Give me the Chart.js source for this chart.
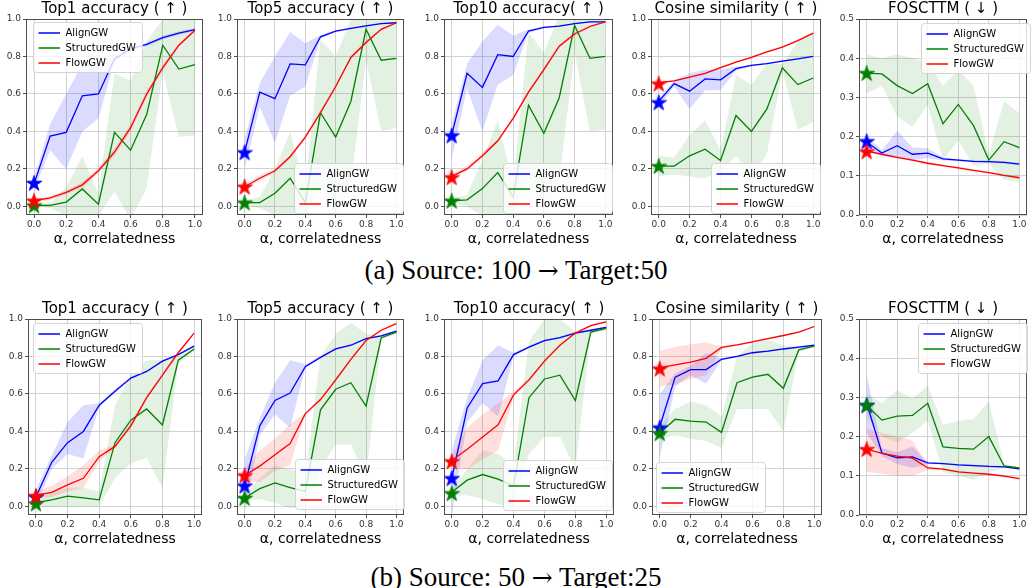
<!DOCTYPE html>
<html>
<head>
<meta charset="utf-8">
<script src="https://cdn.jsdelivr.net/npm/chart.js@4.4.1/dist/chart.umd.min.js"></script>
<style>
  body { margin: 0; background: #fff; width: 1032px; height: 588px; position: relative; overflow: hidden; }
  canvas { position: absolute; }
  .cap { position: absolute; left: 0; width: 1032px; text-align: center; font-family: "Liberation Serif", "DejaVu Serif", serif; font-size: 27px; line-height: 26px; color: #000; }
  .cap .arr { font-family: "DejaVu Serif", serif; font-size: 25px; }
</style>
</head>
<body>
<div class="cap" style="top:257px">(a) Source: 100 <span class="arr">→</span> Target:50</div>
<div class="cap" style="top:564px">(b) Source: 50 <span class="arr">→</span> Target:25</div>
<script>
// x values (alpha, correlatedness)
const alpha = [0, 0.1, 0.2, 0.3, 0.4, 0.5, 0.6, 0.7, 0.8, 0.9, 1.0];
const methods = ['AlignGW', 'StructuredGW', 'FlowGW'];
const titles = ['Top1 accuracy ( ↑ )', 'Top5 accuracy ( ↑ )', 'Top10 accuracy( ↑ )', 'Cosine similarity ( ↑ )', 'FOSCTTM ( ↓ )'];
const xLabel = 'α, correlatedness';
const xTicks = [0, 0.2, 0.4, 0.6, 0.8, 1.0];
const accTicks = [0, 0.2, 0.4, 0.6, 0.8, 1.0];
const fosTicks = [0, 0.1, 0.2, 0.3, 0.4, 0.5];

// ---- (a) Source 100 -> Target 50 ----
const aTop1Align    = [0.12, 0.375, 0.395, 0.59, 0.60, 0.787, 0.84, 0.865, 0.90, 0.925, 0.943];
const aTop1AlignUp  = [0.15, 0.44, 0.60, 0.76, 0.76, 0.80, 0.85, 0.875, 0.91, 0.935, 0.95];
const aTop1AlignLo  = [0.09, 0.30, 0.20, 0.40, 0.47, 0.77, 0.83, 0.855, 0.89, 0.915, 0.935];
const aTop1Struct   = [0.005, 0.005, 0.023, 0.093, 0.012, 0.395, 0.30, 0.49, 0.86, 0.733, 0.757];
const aTop1StructUp = [0.012, 0.02, 0.10, 0.267, 0.07, 0.71, 0.67, 0.88, 1.0, 1.1, 1.12];
const aTop1StructLo = [0.0, -0.01, -0.05, -0.08, -0.05, 0.08, -0.07, 0.10, 0.72, 0.37, 0.38];
const aTop1Flow     = [0.03, 0.045, 0.075, 0.115, 0.19, 0.29, 0.42, 0.60, 0.74, 0.86, 0.94];
const aTop1FlowUp   = [0.04, 0.055, 0.085, 0.13, 0.205, 0.31, 0.44, 0.62, 0.755, 0.87, 0.945];
const aTop1FlowLo   = [0.02, 0.035, 0.065, 0.10, 0.175, 0.27, 0.40, 0.58, 0.725, 0.85, 0.935];
const aTop1Stars    = [0.125, 0.005, 0.03];

const aTop5Align    = [0.29, 0.61, 0.575, 0.76, 0.755, 0.905, 0.935, 0.95, 0.963, 0.975, 0.98];
const aTop5AlignUp  = [0.36, 0.66, 0.80, 0.93, 0.87, 0.915, 0.94, 0.955, 0.968, 0.978, 0.983];
const aTop5AlignLo  = [0.20, 0.53, 0.34, 0.59, 0.64, 0.895, 0.93, 0.945, 0.958, 0.972, 0.977];
const aTop5Struct   = [0.02, 0.02, 0.07, 0.15, 0.02, 0.50, 0.37, 0.56, 0.945, 0.78, 0.79];
const aTop5StructUp = [0.03, 0.05, 0.20, 0.40, 0.10, 0.89, 0.80, 1.0, 1.1, 1.15, 1.15];
const aTop5StructLo = [0.01, -0.01, -0.05, -0.07, -0.06, 0.12, -0.06, 0.12, 0.78, 0.40, 0.42];
const aTop5Flow     = [0.105, 0.15, 0.19, 0.265, 0.37, 0.50, 0.64, 0.795, 0.875, 0.945, 0.98];
const aTop5FlowUp   = [0.115, 0.165, 0.20, 0.275, 0.38, 0.51, 0.65, 0.805, 0.885, 0.95, 0.985];
const aTop5FlowLo   = [0.095, 0.135, 0.18, 0.255, 0.36, 0.49, 0.63, 0.785, 0.865, 0.94, 0.975];
const aTop5Stars    = [0.288, 0.02, 0.105];

const aTop10Align    = [0.38, 0.71, 0.635, 0.81, 0.80, 0.935, 0.955, 0.962, 0.975, 0.985, 0.985];
const aTop10AlignUp  = [0.44, 0.76, 0.88, 0.97, 0.91, 0.945, 0.96, 0.966, 0.978, 0.988, 0.988];
const aTop10AlignLo  = [0.25, 0.63, 0.40, 0.65, 0.70, 0.925, 0.95, 0.958, 0.972, 0.982, 0.982];
const aTop10Struct   = [0.03, 0.035, 0.095, 0.18, 0.05, 0.54, 0.39, 0.58, 0.965, 0.79, 0.80];
const aTop10StructUp = [0.04, 0.06, 0.25, 0.46, 0.12, 0.93, 0.82, 1.02, 1.1, 1.15, 1.15];
const aTop10StructLo = [0.02, 0.0, -0.05, -0.06, -0.03, 0.15, -0.05, 0.14, 0.82, 0.40, 0.41];
const aTop10Flow     = [0.16, 0.20, 0.27, 0.35, 0.47, 0.61, 0.73, 0.855, 0.92, 0.96, 0.985];
const aTop10FlowUp   = [0.17, 0.215, 0.285, 0.36, 0.48, 0.62, 0.74, 0.865, 0.93, 0.965, 0.99];
const aTop10FlowLo   = [0.15, 0.19, 0.26, 0.34, 0.46, 0.60, 0.72, 0.845, 0.91, 0.955, 0.98];
const aTop10Stars    = [0.378, 0.03, 0.155];

const aCosAlign    = [0.56, 0.655, 0.615, 0.68, 0.675, 0.735, 0.752, 0.762, 0.775, 0.787, 0.80];
const aCosAlignUp  = [0.58, 0.67, 0.71, 0.73, 0.73, 0.745, 0.757, 0.766, 0.779, 0.79, 0.803];
const aCosAlignLo  = [0.53, 0.64, 0.52, 0.62, 0.62, 0.725, 0.747, 0.758, 0.771, 0.784, 0.797];
const aCosStruct   = [0.215, 0.215, 0.27, 0.305, 0.245, 0.485, 0.40, 0.52, 0.74, 0.65, 0.685];
const aCosStructUp = [0.27, 0.26, 0.38, 0.46, 0.30, 0.70, 0.65, 0.76, 0.76, 0.88, 0.93];
const aCosStructLo = [0.16, 0.17, 0.16, 0.15, 0.19, 0.27, 0.16, 0.28, 0.72, 0.41, 0.45];
const aCosFlow     = [0.66, 0.67, 0.69, 0.71, 0.74, 0.77, 0.795, 0.825, 0.85, 0.885, 0.925];
const aCosFlowUp   = [0.665, 0.675, 0.695, 0.715, 0.745, 0.775, 0.80, 0.83, 0.855, 0.89, 0.93];
const aCosFlowLo   = [0.655, 0.665, 0.685, 0.705, 0.735, 0.765, 0.79, 0.82, 0.845, 0.88, 0.92];
const aCosStars    = [0.555, 0.215, 0.655];

const aFosAlign    = [0.186, 0.158, 0.177, 0.155, 0.158, 0.143, 0.14, 0.137, 0.136, 0.134, 0.13];
const aFosAlignUp  = [0.20, 0.165, 0.215, 0.172, 0.17, 0.147, 0.143, 0.14, 0.139, 0.137, 0.133];
const aFosAlignLo  = [0.172, 0.15, 0.145, 0.14, 0.145, 0.139, 0.137, 0.134, 0.133, 0.131, 0.127];
const aFosStruct   = [0.362, 0.36, 0.33, 0.31, 0.335, 0.233, 0.282, 0.228, 0.14, 0.187, 0.172];
const aFosStructUp = [0.41, 0.40, 0.41, 0.40, 0.39, 0.33, 0.37, 0.33, 0.155, 0.29, 0.26];
const aFosStructLo = [0.31, 0.33, 0.25, 0.225, 0.28, 0.14, 0.19, 0.125, 0.13, 0.09, 0.085];
const aFosFlow     = [0.163, 0.155, 0.147, 0.14, 0.132, 0.126, 0.12, 0.114, 0.108, 0.101, 0.095];
const aFosFlowUp   = [0.166, 0.158, 0.15, 0.143, 0.135, 0.129, 0.123, 0.117, 0.111, 0.104, 0.098];
const aFosFlowLo   = [0.16, 0.152, 0.144, 0.137, 0.129, 0.123, 0.117, 0.111, 0.105, 0.098, 0.092];
const aFosStars    = [0.188, 0.362, 0.162];

// ---- (b) Source 50 -> Target 25 ----
const bTop1Align    = [0.05, 0.235, 0.34, 0.40, 0.54, 0.615, 0.685, 0.72, 0.775, 0.81, 0.855];
const bTop1AlignUp  = [0.09, 0.27, 0.45, 0.54, 0.55, 0.625, 0.69, 0.725, 0.78, 0.815, 0.86];
const bTop1AlignLo  = [0.01, 0.20, 0.28, 0.255, 0.53, 0.605, 0.68, 0.715, 0.77, 0.805, 0.85];
const bTop1Struct   = [0.02, 0.035, 0.055, 0.045, 0.035, 0.34, 0.46, 0.52, 0.435, 0.78, 0.84];
const bTop1StructUp = [0.03, 0.08, 0.10, 0.10, 0.08, 0.54, 0.70, 0.78, 0.78, 0.80, 0.85];
const bTop1StructLo = [0.0, -0.005, 0.0, 0.0, 0.0, 0.15, 0.23, 0.26, 0.10, 0.76, 0.83];
const bTop1Flow     = [0.06, 0.075, 0.115, 0.15, 0.265, 0.32, 0.43, 0.58, 0.70, 0.82, 0.925];
const bTop1FlowUp   = [0.08, 0.11, 0.16, 0.22, 0.30, 0.33, 0.45, 0.59, 0.71, 0.83, 0.93];
const bTop1FlowLo   = [0.04, 0.05, 0.08, 0.10, 0.24, 0.31, 0.42, 0.57, 0.69, 0.81, 0.92];
const bTop1Stars    = [0.05, 0.015, 0.055];

const bTop5Align    = [0.11, 0.43, 0.565, 0.605, 0.745, 0.795, 0.84, 0.86, 0.895, 0.91, 0.935];
const bTop5AlignUp  = [0.25, 0.47, 0.66, 0.78, 0.76, 0.80, 0.845, 0.865, 0.90, 0.915, 0.94];
const bTop5AlignLo  = [-0.04, 0.38, 0.49, 0.42, 0.74, 0.79, 0.835, 0.855, 0.89, 0.905, 0.93];
const bTop5Struct   = [0.045, 0.095, 0.125, 0.10, 0.08, 0.515, 0.625, 0.66, 0.535, 0.90, 0.93];
const bTop5StructUp = [0.06, 0.15, 0.22, 0.20, 0.17, 0.80, 0.92, 0.98, 0.92, 0.91, 0.94];
const bTop5StructLo = [0.03, 0.04, 0.02, -0.01, 0.0, 0.20, 0.33, 0.33, 0.15, 0.89, 0.92];
const bTop5Flow     = [0.165, 0.215, 0.275, 0.335, 0.495, 0.57, 0.675, 0.785, 0.885, 0.94, 0.975];
const bTop5FlowUp   = [0.20, 0.30, 0.36, 0.44, 0.50, 0.58, 0.685, 0.79, 0.89, 0.945, 0.98];
const bTop5FlowLo   = [0.13, 0.13, 0.19, 0.22, 0.49, 0.56, 0.665, 0.78, 0.88, 0.935, 0.97];
const bTop5Stars    = [0.11, 0.045, 0.165];

const bTop10Align    = [0.15, 0.525, 0.655, 0.67, 0.81, 0.85, 0.885, 0.90, 0.925, 0.94, 0.955];
const bTop10AlignUp  = [0.30, 0.58, 0.78, 0.86, 0.82, 0.855, 0.89, 0.905, 0.93, 0.945, 0.96];
const bTop10AlignLo  = [-0.05, 0.45, 0.55, 0.48, 0.80, 0.845, 0.88, 0.895, 0.92, 0.935, 0.95];
const bTop10Struct   = [0.075, 0.14, 0.17, 0.145, 0.11, 0.58, 0.68, 0.70, 0.565, 0.93, 0.95];
const bTop10StructUp = [0.09, 0.20, 0.30, 0.28, 0.22, 0.88, 1.0, 1.0, 0.93, 0.94, 0.96];
const bTop10StructLo = [0.06, 0.06, 0.04, 0.01, 0.0, 0.28, 0.37, 0.37, 0.20, 0.92, 0.94];
const bTop10Flow     = [0.245, 0.305, 0.37, 0.435, 0.595, 0.675, 0.775, 0.86, 0.925, 0.965, 0.985];
const bTop10FlowUp   = [0.27, 0.42, 0.49, 0.55, 0.61, 0.685, 0.785, 0.865, 0.93, 0.97, 0.99];
const bTop10FlowLo   = [0.21, 0.20, 0.25, 0.30, 0.58, 0.665, 0.765, 0.855, 0.92, 0.96, 0.98];
const bTop10Stars    = [0.15, 0.07, 0.24];

const bCosAlign    = [0.425, 0.69, 0.73, 0.73, 0.785, 0.80, 0.82, 0.828, 0.84, 0.85, 0.86];
const bCosAlignUp  = [0.60, 0.71, 0.75, 0.82, 0.79, 0.805, 0.824, 0.832, 0.844, 0.854, 0.864];
const bCosAlignLo  = [0.26, 0.64, 0.70, 0.655, 0.78, 0.795, 0.816, 0.824, 0.836, 0.846, 0.856];
const bCosStruct   = [0.39, 0.465, 0.455, 0.45, 0.395, 0.66, 0.69, 0.705, 0.63, 0.835, 0.855];
const bCosStructUp = [0.43, 0.52, 0.56, 0.54, 0.48, 0.80, 0.87, 0.89, 0.86, 0.845, 0.86];
const bCosStructLo = [0.36, 0.38, 0.36, 0.35, 0.31, 0.52, 0.52, 0.52, 0.40, 0.825, 0.85];
const bCosFlow     = [0.74, 0.755, 0.77, 0.79, 0.848, 0.862, 0.878, 0.895, 0.912, 0.93, 0.96];
const bCosFlowUp   = [0.83, 0.85, 0.865, 0.875, 0.855, 0.867, 0.882, 0.899, 0.916, 0.934, 0.964];
const bCosFlowLo   = [0.64, 0.65, 0.68, 0.70, 0.84, 0.857, 0.874, 0.891, 0.908, 0.926, 0.956];
const bCosStars    = [0.42, 0.39, 0.735];

const bFosAlign    = [0.285, 0.158, 0.146, 0.148, 0.133, 0.131, 0.128, 0.126, 0.124, 0.123, 0.118];
const bFosAlignUp  = [0.36, 0.17, 0.16, 0.175, 0.136, 0.133, 0.13, 0.128, 0.126, 0.125, 0.12];
const bFosAlignLo  = [0.21, 0.15, 0.13, 0.12, 0.13, 0.129, 0.126, 0.124, 0.122, 0.121, 0.116];
const bFosStruct   = [0.28, 0.242, 0.252, 0.254, 0.285, 0.174, 0.17, 0.168, 0.20, 0.125, 0.12];
const bFosStructUp = [0.31, 0.285, 0.318, 0.297, 0.33, 0.23, 0.24, 0.245, 0.29, 0.13, 0.122];
const bFosStructLo = [0.25, 0.20, 0.185, 0.21, 0.24, 0.11, 0.10, 0.09, 0.11, 0.12, 0.117];
const bFosFlow     = [0.168, 0.157, 0.15, 0.145, 0.12, 0.117, 0.11, 0.107, 0.104, 0.099, 0.093];
const bFosFlowUp   = [0.22, 0.21, 0.20, 0.19, 0.125, 0.12, 0.113, 0.11, 0.107, 0.102, 0.096];
const bFosFlowLo   = [0.11, 0.105, 0.10, 0.10, 0.115, 0.114, 0.107, 0.104, 0.101, 0.096, 0.09];
const bFosStars    = [0.28, 0.28, 0.168];

// ---- styling / layout ----
const lineColors = ['#0000ff', '#008000', '#ff0000'];
const bandColors = ['rgba(0,0,255,0.14)', 'rgba(0,128,0,0.11)', 'rgba(255,0,0,0.13)'];
// canvas is symmetric around the plot (empty right axis) so the title centres over the axes
const TH = 19, XH = 33, YW = 34, PH = 196;
const rowTop = { a: 19, b: 319 };
const colX = {
  a: [[26, 203], [237, 404], [444, 613], [651, 821], [859, 1027]],
  b: [[28, 202], [237, 404], [444, 614], [652, 822], [859, 1027]]
};

const panels = [
  { row: 'a', col: 0, s: [[aTop1Align, aTop1AlignUp, aTop1AlignLo], [aTop1Struct, aTop1StructUp, aTop1StructLo], [aTop1Flow, aTop1FlowUp, aTop1FlowLo]], stars: aTop1Stars, fos: false, leg: 'upper left', dx: 7, dy: 3 },
  { row: 'a', col: 1, s: [[aTop5Align, aTop5AlignUp, aTop5AlignLo], [aTop5Struct, aTop5StructUp, aTop5StructLo], [aTop5Flow, aTop5FlowUp, aTop5FlowLo]], stars: aTop5Stars, fos: false, leg: 'lower right', dx: 1, dy: 2 },
  { row: 'a', col: 2, s: [[aTop10Align, aTop10AlignUp, aTop10AlignLo], [aTop10Struct, aTop10StructUp, aTop10StructLo], [aTop10Flow, aTop10FlowUp, aTop10FlowLo]], stars: aTop10Stars, fos: false, leg: 'lower right', dx: 1, dy: 2 },
  { row: 'a', col: 3, s: [[aCosAlign, aCosAlignUp, aCosAlignLo], [aCosStruct, aCosStructUp, aCosStructLo], [aCosFlow, aCosFlowUp, aCosFlowLo]], stars: aCosStars, fos: false, leg: 'lower right', dx: 1, dy: 2 },
  { row: 'a', col: 4, s: [[aFosAlign, aFosAlignUp, aFosAlignLo], [aFosStruct, aFosStructUp, aFosStructLo], [aFosFlow, aFosFlowUp, aFosFlowLo]], stars: aFosStars, fos: true, leg: 'upper right', dx: -3, dy: 4 },
  { row: 'b', col: 0, s: [[bTop1Align, bTop1AlignUp, bTop1AlignLo], [bTop1Struct, bTop1StructUp, bTop1StructLo], [bTop1Flow, bTop1FlowUp, bTop1FlowLo]], stars: bTop1Stars, fos: false, leg: 'upper left', dx: 5, dy: 4 },
  { row: 'b', col: 1, s: [[bTop5Align, bTop5AlignUp, bTop5AlignLo], [bTop5Struct, bTop5StructUp, bTop5StructLo], [bTop5Flow, bTop5FlowUp, bTop5FlowLo]], stars: bTop5Stars, fos: false, leg: 'lower right', dx: 0, dy: 6 },
  { row: 'b', col: 2, s: [[bTop10Align, bTop10AlignUp, bTop10AlignLo], [bTop10Struct, bTop10StructUp, bTop10StructLo], [bTop10Flow, bTop10FlowUp, bTop10FlowLo]], stars: bTop10Stars, fos: false, leg: 'lower right', dx: 2, dy: 5 },
  { row: 'b', col: 3, s: [[bCosAlign, bCosAlignUp, bCosAlignLo], [bCosStruct, bCosStructUp, bCosStructLo], [bCosFlow, bCosFlowUp, bCosFlowLo]], stars: bCosStars, fos: false, leg: 'lower left', dx: 4, dy: 3 },
  { row: 'b', col: 4, s: [[bFosAlign, bFosAlignUp, bFosAlignLo], [bFosStruct, bFosStructUp, bFosStructLo], [bFosFlow, bFosFlowUp, bFosFlowLo]], stars: bFosStars, fos: true, leg: 'upper right', dx: 0, dy: 4 }
];

// filled 5-point star like matplotlib's '*' marker
function starImage(color) {
  const c = document.createElement('canvas');
  c.width = 20; c.height = 20;
  const g = c.getContext('2d');
  const R = 8.3, r = R * 0.382, cx = 10, cy = 10.7;
  g.beginPath();
  for (let i = 0; i < 10; i++) {
    const rad = i % 2 === 0 ? R : r;
    const ang = -Math.PI / 2 + i * Math.PI / 5;
    const px = cx + rad * Math.cos(ang), py = cy + rad * Math.sin(ang);
    if (i === 0) g.moveTo(px, py); else g.lineTo(px, py);
  }
  g.closePath();
  g.fillStyle = color; g.fill();
  g.strokeStyle = color; g.lineWidth = 0.8; g.stroke();
  return c;
}
const stars = lineColors.map(starImage);

// axes frame + matplotlib-like legend box
const frameLegend = {
  id: 'frameLegend',
  afterDatasetsDraw(chart, args, o) {
    const ctx = chart.ctx, a = chart.chartArea;
    ctx.save();
    ctx.strokeStyle = '#4d4d4d'; ctx.lineWidth = 1;
    ctx.strokeRect(Math.round(a.left) + 0.5, Math.round(a.top) + 0.5, Math.round(a.right - a.left) - 1, Math.round(a.bottom - a.top) - 1);

    ctx.font = '10px "DejaVu Sans"';
    const tw = Math.max(...o.items.map(t => ctx.measureText(t).width));
    const bw = Math.round(38 + tw), bh = 50;
    const bx = Math.round(o.pos.endsWith('left') ? a.left + o.dx : a.right - o.dx - bw);
    const by = Math.round(o.pos.startsWith('upper') ? a.top + o.dy : a.bottom - o.dy - bh);
    ctx.beginPath();
    ctx.roundRect(bx + 0.5, by + 0.5, bw, bh, 3);
    ctx.fillStyle = 'rgba(255,255,255,0.8)'; ctx.fill();
    ctx.strokeStyle = '#d3d3d3'; ctx.stroke();
    o.items.forEach((t, i) => {
      const cy = by + 11 + 15 * i;
      ctx.strokeStyle = o.colors[i]; ctx.lineWidth = 1.5;
      ctx.beginPath(); ctx.moveTo(bx + 5.5, cy); ctx.lineTo(bx + 27, cy); ctx.stroke();
      ctx.fillStyle = '#000'; ctx.textBaseline = 'middle'; ctx.textAlign = 'left';
      ctx.fillText(t, bx + 32.5, cy + 0.5);
    });
    ctx.restore();
  }
};

function pts(arr) { return alpha.map((a, i) => ({ x: a, y: arr[i] })); }

Chart.defaults.font.family = "'DejaVu Sans'";

panels.forEach(p => {
  const [x0, x1] = colX[p.row][p.col];
  const pw = x1 - x0;
  const cv = document.createElement('canvas');
  cv.width = pw + 2 * YW; cv.height = TH + PH + XH;
  cv.style.left = (x0 - YW) + 'px';
  cv.style.top = (rowTop[p.row] - TH) + 'px';
  document.body.appendChild(cv);

  const datasets = [];
  for (let m = 2; m >= 0; m--) {
    datasets.push({ label: methods[m] + ' star', data: [{ x: 0, y: p.stars[m] }], showLine: false, pointStyle: stars[m], pointRadius: 9, borderWidth: 0 });
  }
  for (let m = 2; m >= 0; m--) {
    datasets.push({ label: methods[m], data: pts(p.s[m][0]), borderColor: lineColors[m], borderWidth: 1.3, pointRadius: 0, fill: false, tension: 0 });
  }
  for (let m = 2; m >= 0; m--) {
    datasets.push({ label: methods[m] + ' upper', data: pts(p.s[m][1]), borderColor: 'rgba(0,0,0,0)', borderWidth: 0, pointRadius: 0, backgroundColor: bandColors[m], fill: '+1' });
    datasets.push({ label: methods[m] + ' lower', data: pts(p.s[m][2]), borderColor: 'rgba(0,0,0,0)', borderWidth: 0, pointRadius: 0, fill: false });
  }

  const yTicks = p.fos ? fosTicks : accTicks;
  const yMin = p.fos ? 0 : -0.046, yMax = p.fos ? 0.5 : 1.0;
  new Chart(cv, {
    type: 'line',
    data: { datasets },
    plugins: [frameLegend],
    options: {
      responsive: false, animation: false, devicePixelRatio: 1, events: [],
      layout: { padding: 0 },
      plugins: {
        legend: { display: false },
        tooltip: { enabled: false },
        title: { display: true, text: titles[p.col], color: '#000', font: { size: 15, weight: 'normal', lineHeight: 1 }, padding: { top: 2, bottom: 2 } },
        frameLegend: { items: methods, colors: lineColors, pos: p.leg, dx: p.dx, dy: p.dy }
      },
      scales: {
        x: {
          type: 'linear', min: -0.05, max: 1.05,
          afterBuildTicks: s => { s.ticks = xTicks.map(v => ({ value: v })); },
          afterFit: s => { s.height = XH; },
          ticks: { autoSkip: false, maxRotation: 0, padding: 1, color: '#333', font: { size: 9 }, callback: v => Number(v).toFixed(1) },
          grid: { color: '#d2d2d2', lineWidth: 1, tickColor: '#4d4d4d', tickLength: 3 },
          border: { display: false },
          title: { display: true, text: xLabel, color: '#000', font: { size: 14, lineHeight: 1 }, padding: { top: 0, bottom: 2 } }
        },
        y: {
          type: 'linear', min: yMin, max: yMax,
          afterBuildTicks: s => { s.ticks = yTicks.map(v => ({ value: v })); },
          afterFit: s => { s.width = YW; },
          ticks: { autoSkip: false, padding: 2, color: '#333', font: { size: 9 }, callback: v => Number(v).toFixed(1) },
          grid: { color: '#d2d2d2', lineWidth: 1, tickColor: '#4d4d4d', tickLength: 3 },
          border: { display: false }
        },
        // empty spacer on the right, same width as the y axis
        yPad: {
          type: 'linear', position: 'right', min: yMin, max: yMax,
          afterFit: s => { s.width = YW; },
          ticks: { display: false },
          grid: { display: false, drawTicks: false },
          border: { display: false }
        }
      }
    }
  });
});
</script>
</body>
</html>
